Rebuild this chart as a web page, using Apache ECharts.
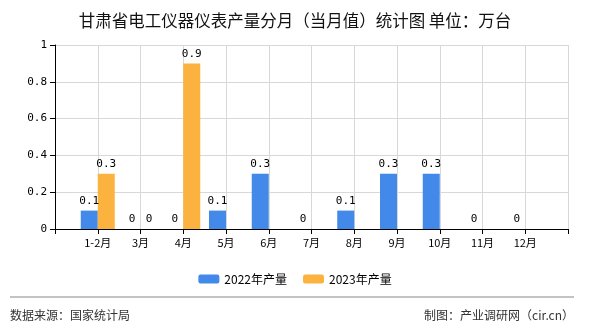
<!DOCTYPE html>
<html><head><meta charset="utf-8">
<script src="https://cdn.jsdelivr.net/npm/echarts@6/dist/echarts.min.js"></script>
<style>html,body{margin:0;padding:0;background:#fff}#c{width:590px;height:330px}</style>
</head><body><div id="c"></div>
<script>
const categories = ['', '1-2月', '3月', '4月', '5月', '6月', '7月', '8月', '9月', '10月', '11月', '12月', ''];
const series2022 = [null, 0.1, 0, 0, 0.1, 0.3, 0, 0.1, 0.3, 0.3, 0, 0, null];
const series2023 = [null, 0.3, 0, 0.9, null, null, null, null, null, null, null, null, null];
const yTicks = [0, 0.2, 0.4, 0.6, 0.8, 1];
const names = ['2022年产量', '2023年产量'];

const chart = echarts.init(document.getElementById('c'), null, {renderer: 'canvas'});
const cjk = '"Noto Sans CJK SC", sans-serif';
const mono = '"DejaVu Sans Mono", "Liberation Mono", monospace';
const lbl = {show: true, position: 'top', fontSize: 11, color: '#000', fontFamily: mono, distance: 4,
  formatter: p => p.value == null ? '' : String(p.value)};
chart.setOption({
  animation: false,
  title: {text: '甘肃省电工仪器仪表产量分月（当月值）统计图 单位：万台', left: 'center', top: 7,
    textStyle: {fontSize: 16.5, fontWeight: 'normal', color: '#111', fontFamily: cjk}},
  grid: {left: 55, right: 22, top: 45, bottom: 101},
  legend: {data: names, top: 268, left: 'center', itemWidth: 21, itemHeight: 9, itemGap: 16,
    textStyle: {fontSize: 12, color: '#000', fontFamily: cjk}},
  xAxis: {type: 'category', data: categories, boundaryGap: false,
    axisLine: {lineStyle: {color: '#000', width: 1}},
    axisTick: {show: true, length: 5, lineStyle: {color: '#000'}},
    axisLabel: {fontSize: 11, color: '#000', fontFamily: cjk, margin: 8, interval: 0},
    splitLine: {show: true, lineStyle: {color: '#d8d8d8'}}},
  yAxis: {type: 'value', min: yTicks[0], max: yTicks[yTicks.length - 1], interval: 0.2,
    axisLine: {show: true, lineStyle: {color: '#000'}},
    axisTick: {show: true, length: 5, lineStyle: {color: '#000'}},
    axisLabel: {fontSize: 11, color: '#000', fontFamily: mono, margin: 8},
    splitLine: {show: true, lineStyle: {color: '#d8d8d8'}}},
  series: [
    {name: names[0], type: 'bar', data: series2022, barWidth: 17, barGap: '0%',
      itemStyle: {color: '#4289ea'}, label: lbl},
    {name: names[1], type: 'bar', data: series2023, barWidth: 17, barGap: '0%',
      itemStyle: {color: '#fbb23e'}, label: lbl}
  ],
  graphic: [
    {type: 'line', shape: {x1: 10, y1: 297, x2: 574, y2: 297}, style: {stroke: '#888', lineWidth: 1}},
    {type: 'text', left: 10, top: 309, style: {text: '数据来源：国家统计局', fontSize: 12, fill: '#333', fontFamily: cjk}},
    {type: 'text', right: 16, top: 309, style: {text: '制图：产业调研网（cir.cn）', fontSize: 12, fill: '#333', fontFamily: cjk}}
  ]
});
</script></body></html>
